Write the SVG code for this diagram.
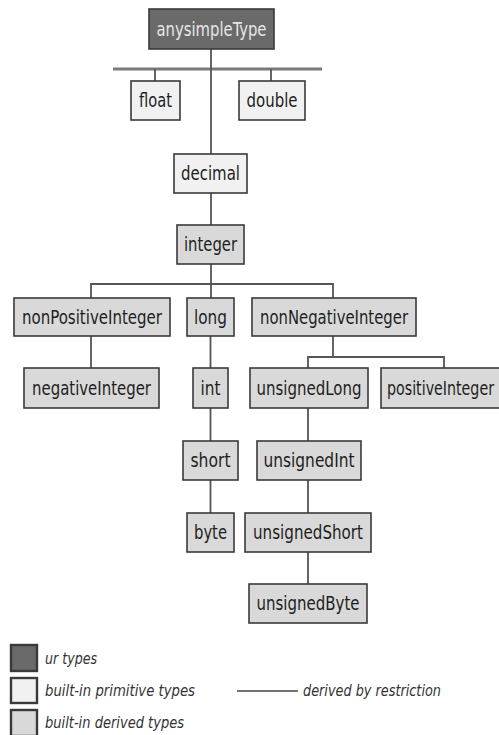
<svg xmlns="http://www.w3.org/2000/svg" width="499" height="735" viewBox="0 0 499 735">
<style>
.box{stroke:#3a3a3a;stroke-width:1.6}
.ur{fill:#6a6a6a}
.prim{fill:#f1f1f1}
.der{fill:#d9d9d9}
.t{font-family:"DejaVu Sans Condensed","DejaVu Sans",sans-serif;font-stretch:condensed;font-size:19px;fill:#1e1e1e;text-anchor:middle}
.tw{fill:#e6e6e6}
.c{stroke:#555;stroke-width:1.8;fill:none}
.bar{stroke:#7a7a7a;stroke-width:3;fill:none}
.lg{font-family:"DejaVu Sans Condensed","DejaVu Sans",sans-serif;font-stretch:condensed;font-style:italic;font-size:15px;fill:#333}
</style>
<rect width="499" height="735" fill="#fff"/>
<g id="connectors">
<line class="bar" x1="113" y1="69" x2="322" y2="69"/>
<path class="c" d="M155 69V81M271 69V81"/>
<path class="c" d="M211 49V154M211 193V225M211 264V298"/>
<path class="c" d="M91 298V284H333V298"/>
<path class="c" d="M91 336V368"/>
<path class="c" d="M210.5 336V368M210.5 408V441M210.5 480V513"/>
<path class="c" d="M333 336V357M308 368V357H444V368"/>
<path class="c" d="M308 408V441M308 480V513M308 552V584"/>
</g>
<g id="anysimpleType"><rect class="box ur" x="149" y="9" width="125" height="40"/><text class="t tw" x="211.5" y="36" textLength="110" lengthAdjust="spacingAndGlyphs">anysimpleType</text></g>
<g id="float"><rect class="box prim" x="131" y="81" width="49" height="39"/><text class="t" x="155.5" y="107" textLength="33" lengthAdjust="spacingAndGlyphs">float</text></g>
<g id="double"><rect class="box prim" x="239" y="81" width="66" height="39"/><text class="t" x="272" y="107" textLength="51" lengthAdjust="spacingAndGlyphs">double</text></g>
<g id="decimal"><rect class="box prim" x="174" y="154" width="73" height="39"/><text class="t" x="210.5" y="180" textLength="59" lengthAdjust="spacingAndGlyphs">decimal</text></g>
<g id="integer"><rect class="box der" x="177" y="225" width="67" height="39"/><text class="t" x="210.5" y="251" textLength="53" lengthAdjust="spacingAndGlyphs">integer</text></g>
<g id="nonPositiveInteger"><rect class="box der" x="14" y="298" width="156" height="38"/><text class="t" x="92" y="324" textLength="140" lengthAdjust="spacingAndGlyphs">nonPositiveInteger</text></g>
<g id="long"><rect class="box der" x="187" y="298" width="47" height="38"/><text class="t" x="210.5" y="324" textLength="33" lengthAdjust="spacingAndGlyphs">long</text></g>
<g id="nonNegativeInteger"><rect class="box der" x="252" y="298" width="164" height="38"/><text class="t" x="334" y="324" textLength="148" lengthAdjust="spacingAndGlyphs">nonNegativeInteger</text></g>
<g id="negativeInteger"><rect class="box der" x="24" y="368" width="135" height="40"/><text class="t" x="91.5" y="395" textLength="119" lengthAdjust="spacingAndGlyphs">negativeInteger</text></g>
<g id="int"><rect class="box der" x="193" y="368" width="35" height="40"/><text class="t" x="210.5" y="395" textLength="20" lengthAdjust="spacingAndGlyphs">int</text></g>
<g id="unsignedLong"><rect class="box der" x="250" y="368" width="118" height="40"/><text class="t" x="309" y="395" textLength="105" lengthAdjust="spacingAndGlyphs">unsignedLong</text></g>
<g id="positiveInteger"><rect class="box der" x="381" y="368" width="124" height="40"/><text class="t" x="0" y="0" transform="translate(387 395) scale(1 1.19)" style="text-anchor:start;font-size:16px" textLength="107" lengthAdjust="spacingAndGlyphs">positiveInteger</text></g>
<g id="short"><rect class="box der" x="183" y="441" width="55" height="39"/><text class="t" x="210.5" y="467" textLength="40" lengthAdjust="spacingAndGlyphs">short</text></g>
<g id="unsignedInt"><rect class="box der" x="257" y="441" width="104" height="39"/><text class="t" x="309" y="467" textLength="91" lengthAdjust="spacingAndGlyphs">unsignedInt</text></g>
<g id="byte"><rect class="box der" x="187" y="513" width="47" height="39"/><text class="t" x="210.5" y="539" textLength="33" lengthAdjust="spacingAndGlyphs">byte</text></g>
<g id="unsignedShort"><rect class="box der" x="245" y="513" width="126" height="39"/><text class="t" x="308" y="539" textLength="110" lengthAdjust="spacingAndGlyphs">unsignedShort</text></g>
<g id="unsignedByte"><rect class="box der" x="249" y="584" width="118" height="39"/><text class="t" x="308" y="610" textLength="103" lengthAdjust="spacingAndGlyphs">unsignedByte</text></g>
<g id="legend">
<rect class="box ur" x="11" y="645" width="26" height="26" style="stroke-width:2.4"/>
<rect class="box prim" x="11" y="678" width="26" height="25" style="stroke-width:2.4"/>
<rect class="box der" x="11" y="710" width="26" height="26" style="stroke-width:2.4"/>
<text class="lg" x="45" y="664" textLength="52" lengthAdjust="spacingAndGlyphs">ur types</text>
<text class="lg" x="45" y="696" textLength="150" lengthAdjust="spacingAndGlyphs">built-in primitive types</text>
<text class="lg" x="45" y="728" textLength="139" lengthAdjust="spacingAndGlyphs">built-in derived types</text>
<line x1="237" y1="691" x2="298" y2="691" stroke="#444" stroke-width="1.4"/>
<text class="lg" x="303" y="696" textLength="138" lengthAdjust="spacingAndGlyphs">derived by restriction</text>
</g>
</svg>
